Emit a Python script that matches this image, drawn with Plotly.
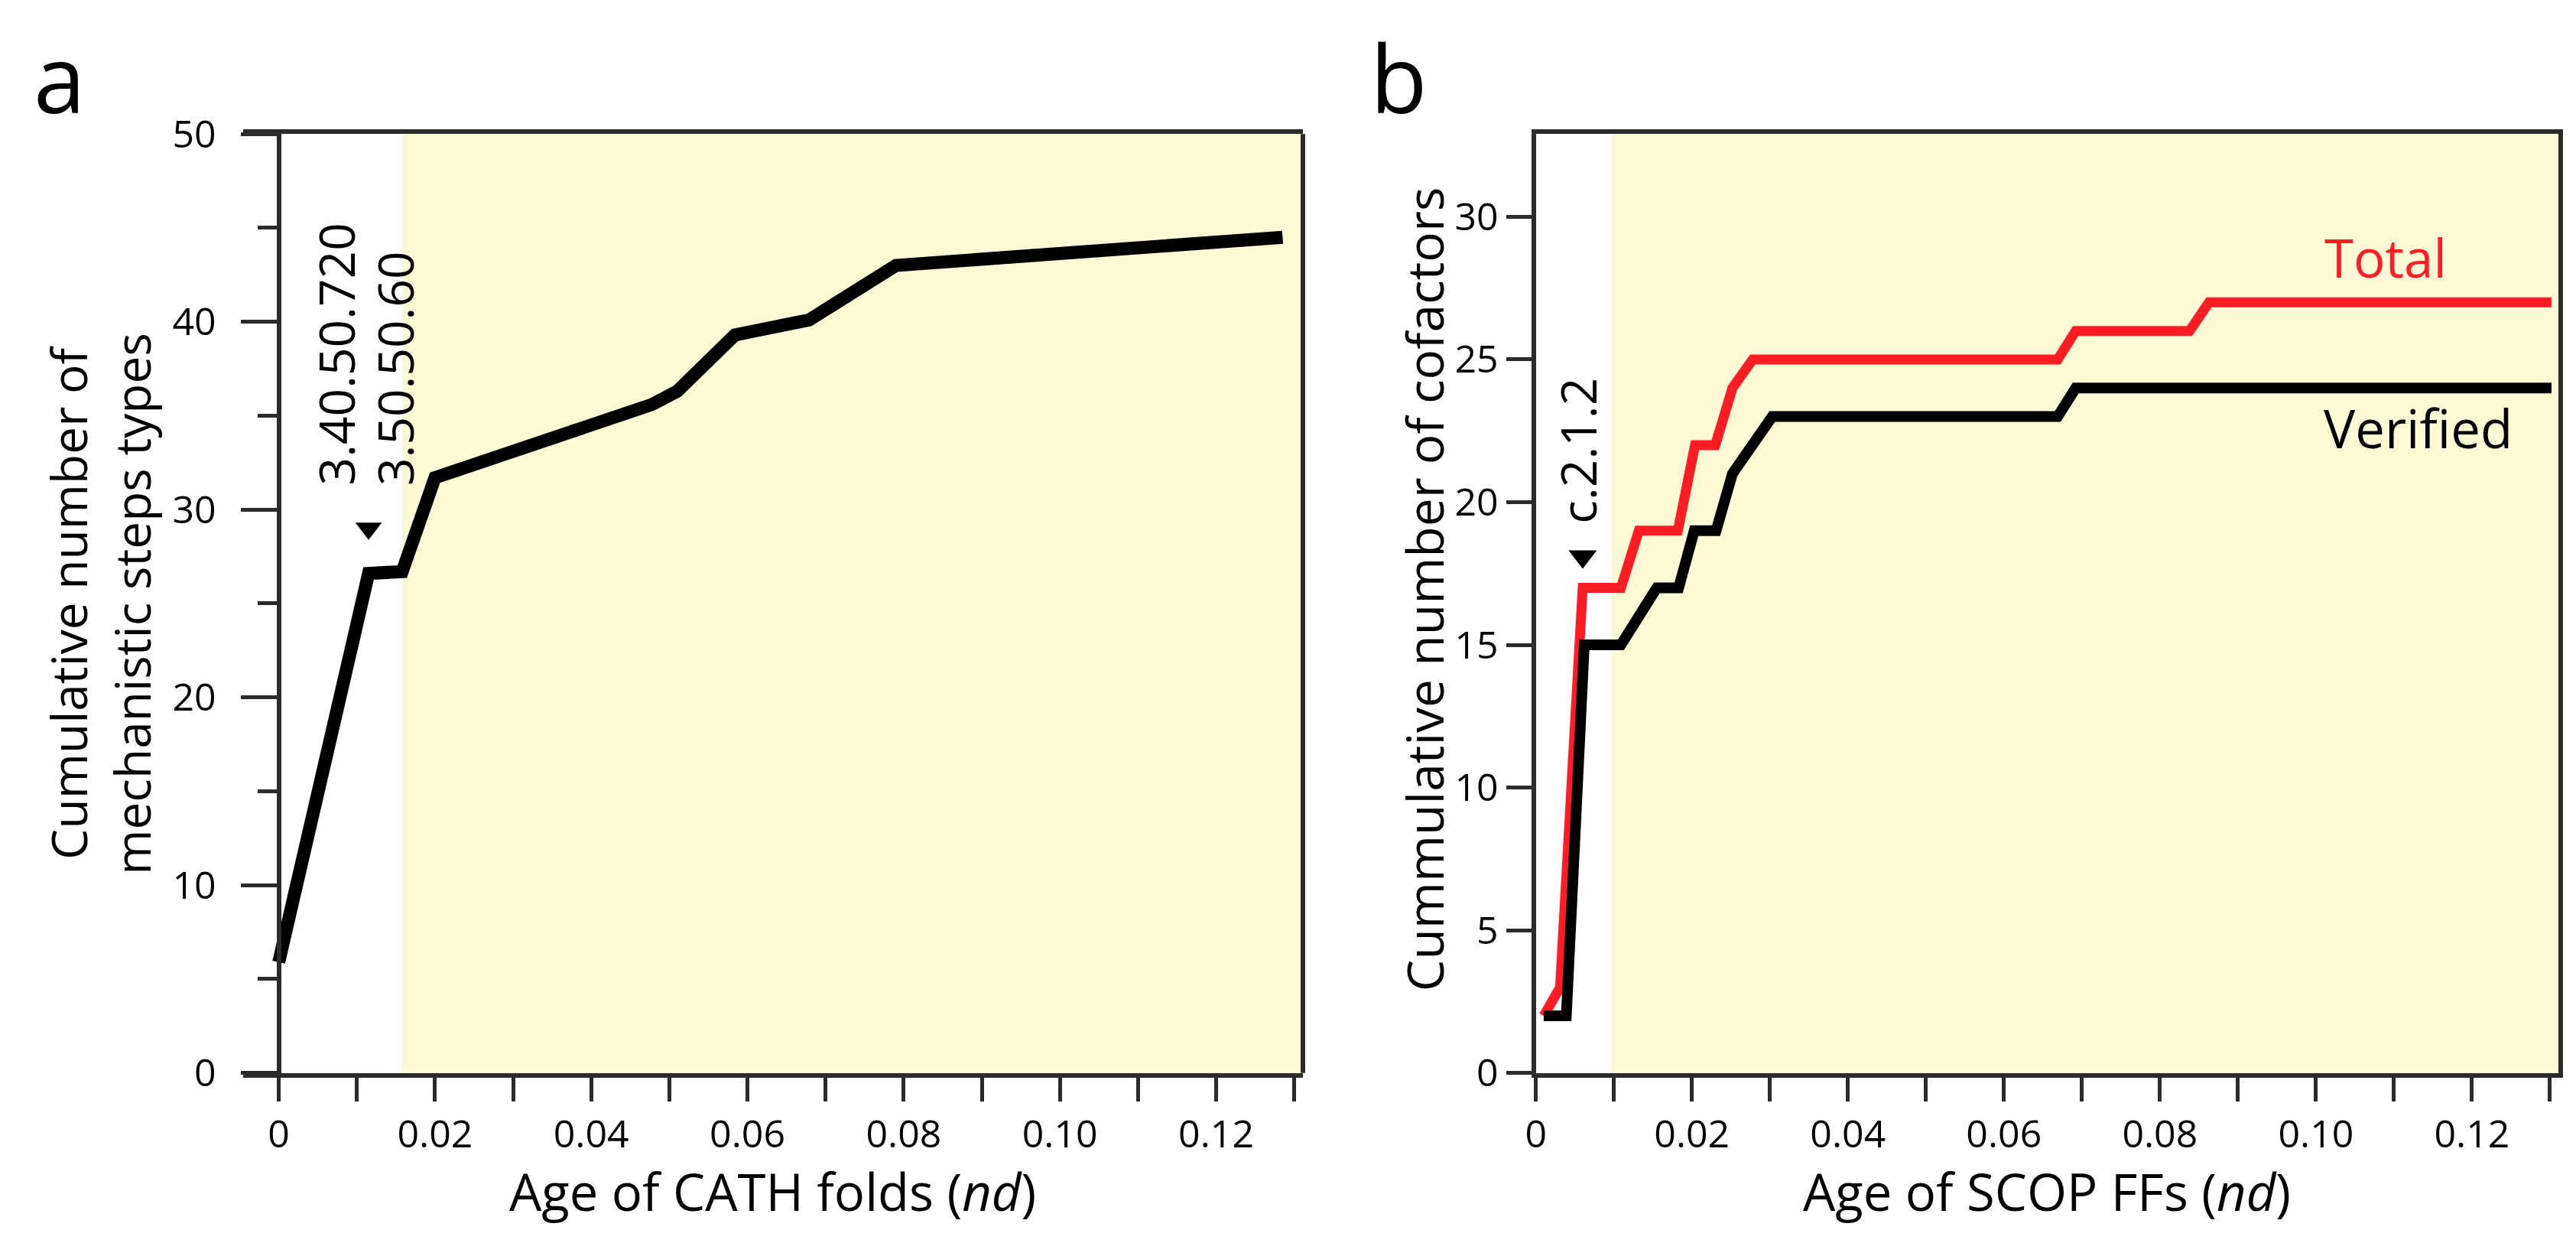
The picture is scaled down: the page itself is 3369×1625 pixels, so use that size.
import plotly.graph_objects as go

# panel a: CATH folds
cath_age = [0, 0.0115, 0.0158, 0.0200, 0.0478, 0.0510, 0.0584, 0.0679, 0.0790, 0.1285]
cath_steps = [5.9, 26.6, 26.7, 31.7, 35.6, 36.3, 39.3, 40.1, 43.0, 44.5]
cath_marker = [0.0115, 29.0]
cath_labels = ["3.40.50.720", "3.50.50.60"]
cath_label_x = [0.0073, 0.0148]

# panel b: SCOP FFs
scop_total_age = [0.001, 0.0031, 0.006, 0.0109, 0.0132, 0.0182, 0.0204, 0.0230,
                  0.0252, 0.0278, 0.0669, 0.0692, 0.0838, 0.0863, 0.1302]
scop_total = [2, 3, 17, 17, 19, 19, 22, 22, 24, 25, 25, 26, 26, 27, 27]
scop_verified_age = [0.001, 0.0039, 0.0062, 0.0109, 0.0155, 0.0183, 0.0203, 0.0231,
                     0.0252, 0.0278, 0.0303, 0.0669, 0.0692, 0.1302]
scop_verified = [2, 2, 15, 15, 17, 17, 19, 19, 21, 22, 23, 23, 24, 24]
scop_marker = [0.006, 18.1]

xtick_vals = [i / 100 for i in range(14)]
xtick_text = ["0", "", "0.02", "", "0.04", "", "0.06", "", "0.08", "", "0.10", "", "0.12", ""]

shade_a_start = 0.0158
shade_b_start = 0.0097

W, H = 3369, 1625
FONT = "Open Sans"
AX = "#2b2b2b"
RED = "#FF1D25"
YELLOW = "#FDF9D5"

dom_a = [297 / W, 1689 / W]
dom_b = [1995 / W, 3338 / W]
dom_y = [1 - 1419 / H, 1 - 137 / H]
xa_range = [-0.00458, 0.1311]
xb_range = [0, 0.1311]

fig = go.Figure()

fig.add_trace(go.Scatter(x=cath_age, y=cath_steps, mode="lines",
                         line=dict(color="black", width=17), xaxis="x", yaxis="y"))
fig.add_trace(go.Scatter(x=[cath_marker[0]], y=[cath_marker[1]], mode="markers",
                         marker=dict(symbol="triangle-down", size=30, color="black"),
                         xaxis="x", yaxis="y"))
fig.add_trace(go.Scatter(x=scop_total_age, y=scop_total, mode="lines",
                         line=dict(color=RED, width=13), xaxis="x2", yaxis="y2"))
fig.add_trace(go.Scatter(x=scop_verified_age, y=scop_verified, mode="lines",
                         line=dict(color="black", width=14), xaxis="x2", yaxis="y2"))
fig.add_trace(go.Scatter(x=[scop_marker[0]], y=[scop_marker[1]], mode="markers",
                         marker=dict(symbol="triangle-down", size=32, color="black"),
                         xaxis="x2", yaxis="y2"))

xaxis_common = dict(tickvals=xtick_vals, ticktext=xtick_text, showline=True, mirror=True,
                    linecolor=AX, linewidth=6, ticks="outside", ticklen=31, tickwidth=5,
                    tickcolor=AX, showgrid=False, zeroline=False,
                    tickfont=dict(family=FONT, size=50, color="black"))

fig.update_layout(
    width=W, height=H,
    margin=dict(l=0, r=0, t=0, b=0),
    paper_bgcolor="white", plot_bgcolor="white",
    showlegend=False,
    xaxis=dict(domain=dom_a, range=xa_range, anchor="y", **xaxis_common),
    yaxis=dict(domain=dom_y, range=[0, 50], anchor="free", position=344 / W,
               tickvals=[0, 10, 20, 30, 40, 50], showline=True, linecolor=AX, linewidth=6,
               ticks="outside", ticklen=47, tickwidth=5, tickcolor=AX,
               minor=dict(dtick=5, ticks="outside", ticklen=25, tickwidth=5, tickcolor=AX),
               ticklabelstandoff=22, showgrid=False, zeroline=False,
               tickfont=dict(family=FONT, size=50, color="black")),
    xaxis2=dict(domain=dom_b, range=xb_range, anchor="y2", **xaxis_common),
    yaxis2=dict(domain=dom_y, range=[0, 32.9], anchor="x2",
                tickvals=[0, 5, 10, 15, 20, 25, 30], showline=True, mirror=True,
                linecolor=AX, linewidth=6, ticks="outside", ticklen=33, tickwidth=5,
                tickcolor=AX, showgrid=False, zeroline=False,
                tickfont=dict(family=FONT, size=50, color="black")),
)

# shaded regions and panel a right border
fig.add_shape(type="rect", xref="x", yref="y domain", x0=shade_a_start, x1=xa_range[1],
              y0=0, y1=1, fillcolor=YELLOW, line_width=0, layer="below")
fig.add_shape(type="rect", xref="x2", yref="y2 domain", x0=shade_b_start, x1=xb_range[1],
              y0=0, y1=1, fillcolor=YELLOW, line_width=0, layer="below")
fig.add_shape(type="line", xref="x domain", yref="y domain", x0=1, x1=1, y0=0, y1=1,
              line=dict(color=AX, width=6))

# labels
for txt, xv in zip(cath_labels, cath_label_x):
    fig.add_annotation(x=xv, y=31.2, xref="x", yref="y", text=txt, textangle=-90,
                       showarrow=False, xanchor="center", yanchor="bottom",
                       font=dict(family=FONT, size=64, color="black"))
fig.add_annotation(x=0.0054, y=19.2, xref="x2", yref="y2", text="c.2.1.2", textangle=-90,
                   showarrow=False, xanchor="center", yanchor="bottom",
                   font=dict(family=FONT, size=64, color="black"))
fig.add_annotation(x=0.1089, y=28.6, xref="x2", yref="y2", text="Total", showarrow=False,
                   xanchor="center", yanchor="middle",
                   font=dict(family=FONT, size=69, color=RED))
fig.add_annotation(x=0.1131, y=22.6, xref="x2", yref="y2", text="Verified", showarrow=False,
                   xanchor="center", yanchor="middle",
                   font=dict(family=FONT, size=69, color="black"))

# axis titles
fig.add_annotation(x=(dom_a[0] + dom_a[1]) / 2, y=1 - 1580 / H, xref="paper", yref="paper",
                   text="Age of CATH folds (<i>nd</i>)", showarrow=False,
                   xanchor="center", yanchor="middle",
                   font=dict(family=FONT, size=67, color="black"))
fig.add_annotation(x=(dom_b[0] + dom_b[1]) / 2, y=1 - 1580 / H, xref="paper", yref="paper",
                   text="Age of SCOP FFs (<i>nd</i>)", showarrow=False,
                   xanchor="center", yanchor="middle",
                   font=dict(family=FONT, size=67, color="black"))
fig.add_annotation(x=110 / W, y=0.521, xref="paper", yref="paper", textangle=-90,
                   text="Cumulative number of<br>mechanistic steps types", showarrow=False,
                   xanchor="center", yanchor="middle",
                   font=dict(family=FONT, size=64, color="black"))
fig.add_annotation(x=1848 / W, y=0.5335, xref="paper", yref="paper", textangle=-90,
                   text="Cummulative number of cofactors", showarrow=False,
                   xanchor="center", yanchor="middle",
                   font=dict(family=FONT, size=66, color="black"))

# panel letters
fig.add_annotation(x=20 / W, y=1 - 60 / H, xref="paper", yref="paper", text="a",
                   showarrow=False, xanchor="left", yanchor="middle",
                   font=dict(family=FONT, size=122, color="black"))
fig.add_annotation(x=1775 / W, y=1 - 60 / H, xref="paper", yref="paper", text="b",
                   showarrow=False, xanchor="left", yanchor="middle",
                   font=dict(family=FONT, size=122, color="black"))

fig.write_html("out.html")
